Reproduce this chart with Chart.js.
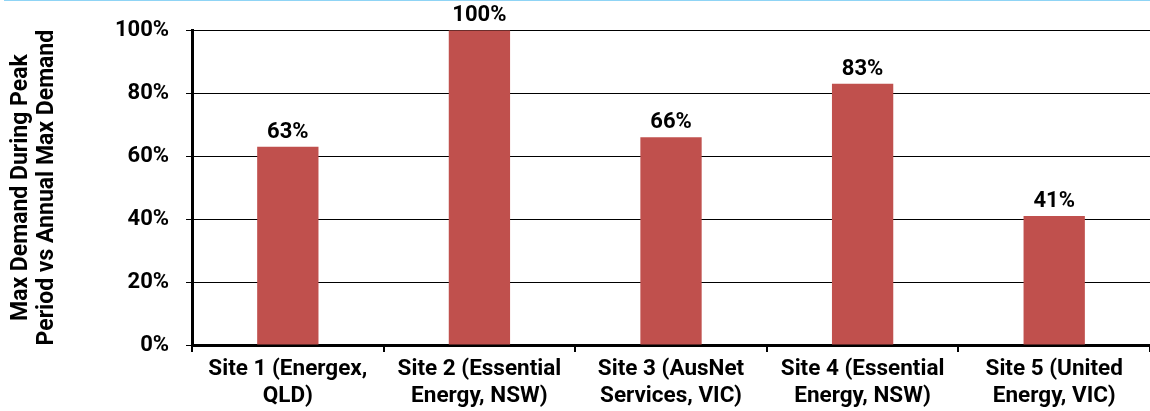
<!DOCTYPE html>
<html>
<head>
<meta charset="utf-8">
<script src="https://cdn.jsdelivr.net/npm/chart.js@4.4.1/dist/chart.umd.min.js"></script>
<style>
  html, body { margin: 0; padding: 0; background: #fff; }
  #wrap { position: relative; width: 1150px; height: 411px; }
  #topline { position: absolute; left: 4px; right: 0; top: 0; height: 1px; background: #8fd4f5; }
</style>
</head>
<body>
<div id="wrap">
  <canvas id="demandChart" width="1150" height="411"></canvas>
  <div id="topline"></div>
</div>
<script>
  const sites = [
    ["Site 1 (Energex,", "QLD)"],
    ["Site 2 (Essential", "Energy, NSW)"],
    ["Site 3 (AusNet", "Services, VIC)"],
    ["Site 4 (Essential", "Energy, NSW)"],
    ["Site 5 (United", "Energy, VIC)"],
  ];
  const peakShare = [0.63, 1.00, 0.66, 0.83, 0.41];
  const yTicks = [0, 0.2, 0.4, 0.6, 0.8, 1.0];

  const FONT = "Roboto";

  // value labels above each bar
  const barLabels = {
    id: "barLabels",
    afterDatasetsDraw(chart) {
      const ctx = chart.ctx;
      const meta = chart.getDatasetMeta(0);
      ctx.save();
      ctx.font = "bold 22px " + FONT;
      ctx.fillStyle = "#000";
      ctx.textAlign = "center";
      ctx.textBaseline = "alphabetic";
      meta.data.forEach((bar, i) => {
        ctx.fillText(Math.round(peakShare[i] * 100) + "%", bar.x, bar.y - 9);
      });
      ctx.restore();
    },
  };

  new Chart(document.getElementById("demandChart"), {
    type: "bar",
    data: {
      labels: sites,
      datasets: [
        {
          data: peakShare,
          backgroundColor: "#c0504d",
          barPercentage: 0.32,
          categoryPercentage: 1,
        },
      ],
    },
    options: {
      responsive: false,
      animation: false,
      layout: { padding: { top: 30, right: 0, left: 8, bottom: -3 } },
      plugins: { legend: { display: false }, tooltip: { enabled: false } },
      scales: {
        x: {
          grid: {
            offset: true,
            drawOnChartArea: false,
            drawTicks: true,
            tickLength: 7,
            color: "#000",
            lineWidth: 2,
          },
          border: { color: "#000", width: 3 },
          ticks: {
            color: "#000",
            font: { family: FONT, size: 22.5, weight: "bold", lineHeight: 1.2 },
            maxRotation: 0,
            padding: 4,
          },
        },
        y: {
          min: 0,
          max: 1,
          afterBuildTicks(axis) {
            axis.ticks = yTicks.map((v) => ({ value: v }));
          },
          grid: { color: "#000", lineWidth: 1, tickLength: 6 },
          border: { color: "#000", width: 3 },
          ticks: {
            color: "#000",
            font: { family: FONT, size: 22, weight: "bold" },
            padding: 17,
            callback: (v) => Math.round(v * 100) + "%",
          },
          title: {
            display: true,
            text: ["Max Demand During Peak", "Period vs Annual Max Demand"],
            color: "#000",
            font: { family: FONT, size: 23, weight: "bold", lineHeight: 1.15 },
            padding: { top: 0, bottom: 37 },
          },
        },
      },
    },
    plugins: [barLabels],
  });
</script>
</body>
</html>
